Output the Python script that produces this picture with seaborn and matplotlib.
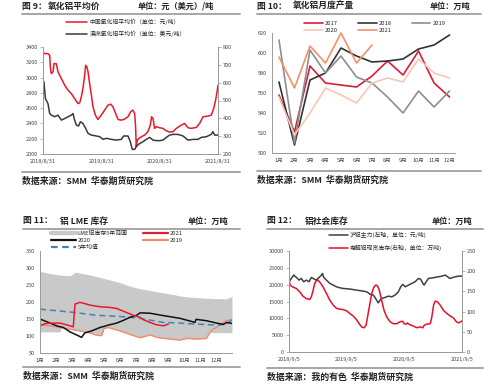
import matplotlib
matplotlib.use("Agg")
import matplotlib.pyplot as plt
from matplotlib.lines import Line2D
import seaborn as sns
import pandas as pd

sns.set_style("white")
plt.rcParams['font.family'] = ['Noto Sans CJK SC', 'DejaVu Sans']
plt.rcParams['axes.unicode_minus'] = False

# ---- 图9 氧化铝平均价 ----
cn_dates = ['2018-08-31', '2018-09-10', '2018-10-01', '2018-10-12', '2018-10-16', '2018-10-22',
            '2018-11-02', '2018-11-08', '2018-11-22', '2018-12-03', '2018-12-24', '2019-01-14',
            '2019-02-04', '2019-02-24', '2019-03-17', '2019-04-07', '2019-04-18', '2019-04-28',
            '2019-05-08', '2019-05-19', '2019-05-25', '2019-06-02', '2019-06-09', '2019-06-19',
            '2019-06-30', '2019-07-10', '2019-07-25', '2019-08-10', '2019-08-31', '2019-09-21',
            '2019-10-12', '2019-10-29', '2019-11-12', '2019-11-29', '2019-12-14', '2020-01-03',
            '2020-01-24', '2020-02-14', '2020-03-02', '2020-03-16', '2020-03-27', '2020-04-02',
            '2020-04-06', '2020-04-13', '2020-04-23', '2020-05-08', '2020-05-29', '2020-06-18',
            '2020-07-03', '2020-07-11', '2020-07-20', '2020-07-30', '2020-08-10', '2020-08-30',
            '2020-09-20', '2020-10-11', '2020-11-01', '2020-11-22', '2020-12-13', '2021-01-13',
            '2021-02-03', '2021-02-24', '2021-03-17', '2021-04-17', '2021-05-08', '2021-05-29',
            '2021-06-29', '2021-07-20', '2021-08-04', '2021-08-16', '2021-08-25', '2021-08-31']
cn_price = [3335, 3313, 3313, 3290, 3139, 3052, 3075, 3183, 3183, 3075, 2987, 2900,
            2835, 2791, 2726, 2660, 2670, 2748, 2857, 3030, 3161, 3139, 3075, 2922,
            2770, 2617, 2509, 2452, 2509, 2574, 2639, 2652, 2617, 2530, 2452, 2443,
            2456, 2487, 2552, 2574, 2530, 2357, 2096, 2183, 2204, 2226, 2248, 2291,
            2378, 2487, 2465, 2335, 2357, 2344, 2335, 2304, 2287, 2291, 2335, 2378,
            2400, 2344, 2335, 2348, 2400, 2487, 2496, 2509, 2596, 2704, 2813, 2900]
au_dates = ['2018-08-31', '2018-09-06', '2018-09-15', '2018-10-01', '2018-10-12', '2018-10-22',
            '2018-11-12', '2018-12-03', '2018-12-24', '2019-01-14', '2019-02-04', '2019-02-24',
            '2019-03-07', '2019-03-17', '2019-03-28', '2019-04-11', '2019-04-22', '2019-05-08',
            '2019-05-25', '2019-06-09', '2019-06-30', '2019-07-31', '2019-08-21', '2019-09-11',
            '2019-10-02', '2019-11-02', '2019-12-03', '2020-01-03', '2020-01-18', '2020-02-14',
            '2020-02-29', '2020-03-12', '2020-03-27', '2020-04-06', '2020-04-23', '2020-05-18',
            '2020-06-08', '2020-06-29', '2020-07-20', '2020-08-10', '2020-08-30', '2020-09-20',
            '2020-10-11', '2020-11-01', '2020-11-22', '2020-12-23', '2021-01-24', '2021-02-24',
            '2021-03-27', '2021-04-27', '2021-05-18', '2021-06-19', '2021-07-20', '2021-07-30',
            '2021-08-10', '2021-08-31']
au_price = [520, 604, 511, 483, 427, 418, 409, 418, 390, 399, 409, 418,
            427, 390, 362, 357, 381, 371, 344, 316, 306, 301, 297, 282,
            288, 282, 278, 282, 301, 301, 269, 226, 226, 241, 256, 269,
            282, 293, 278, 275, 275, 278, 293, 306, 310, 310, 301, 278,
            282, 282, 293, 297, 310, 325, 306, 306]
p9_ticks = ['2018-08-31', '2019-08-31', '2020-08-31', '2021-08-31']
p9_ticklabels = ['2018/8/31', '2019/8/31', '2020/8/31', '2021/8/31']

# ---- 图10 氧化铝月度产量 ----
months = list(range(1, 13))
month_labels = [f'{m}月' for m in months]
out_2017 = [558, 521, 587, 570, 568, 566, 577, 592, 578, 602, 570, 556]
out_2018 = [571, 508, 573, 580, 605, 597, 591, 592, 594, 604, 608, 618]
out_2019 = [613, 510, 603, 580, 597, 576, 570, 556, 540, 562, 546, 562]
out_2020 = [556, 518, 540, 565, 558, 550, 570, 575, 571, 594, 580, 575]
out_2021 = [596, 565, 607, 590, 620, 590, 608]

# ---- 图11 铝LME库存 (x: 月份, 0 = 1月初) ----
band_m = [0, 0.6, 1.25, 1.35, 1.9, 2.2, 2.5, 3.1, 3.5, 3.85, 4.0, 4.27, 5.0, 5.6,
          6.25, 6.9, 7.3, 8.1, 8.75, 9.2, 9.8, 10.4, 10.6, 10.8, 11.2, 11.6, 12.0]
band_hi = [290, 284, 279, 279, 277, 288, 285, 280, 275, 271, 269, 266, 257, 247,
           239, 234, 230, 224, 218, 215, 213, 211, 211, 210, 210, 209, 216]
band_lo = [112, 112, 112, 124, 120, 117, 115, 109, 103, 101, 122, 125, 115, 105,
           95, 103, 96, 91, 88, 93, 91, 93, 110, 110, 110, 110, 110]
lme21_m = [0, 0.3, 0.63, 1.25, 1.875, 2.08, 2.19, 2.5, 3.125, 3.75, 4.375, 4.79,
           5.42, 5.83, 6.25, 6.46, 6.875, 7.29, 7.71, 8.02]
lme21 = [130, 136, 138, 138, 130, 127, 194, 199, 191, 186, 184, 181,
         169, 161, 155, 148, 140, 133, 130, 135]
lme20_m = [0, 0.63, 1.04, 1.46, 1.875, 2.29, 2.6, 2.8, 3.23, 3.75, 4.27, 4.79, 5.21,
           5.625, 6.04, 6.25, 6.875, 7.71, 8.75, 9.69, 9.75, 10.4, 11.04, 11.46, 11.67, 12.0]
lme20 = [150, 138, 130, 125, 112, 103, 96, 109, 115, 125, 132, 138, 146,
         155, 161, 168, 167, 160, 152, 140, 149, 145, 138, 134, 140, 137]
lme19_m = [0, 0.63, 1.25, 1.875, 2.5, 3.125, 3.5, 3.85, 4.0, 4.27, 5.0, 5.6, 6.25,
           6.9, 7.3, 8.1, 8.75, 9.2, 9.8, 10.4, 10.6, 10.8, 11.2, 11.6, 12.0]
lme19 = [132, 130, 125, 120, 115, 109, 103, 101, 122, 125, 115, 105, 95,
         103, 96, 91, 88, 93, 91, 93, 109, 120, 130, 145, 148]
avg5_m = [0, 2.2, 3.5, 4.79, 5.625, 6.25, 7.71, 8.75, 9.79, 11.04, 11.67, 12.0]
avg5 = [179, 169, 161, 158, 155, 152, 140, 138, 135, 132, 135, 148]

# ---- 图12 铝社会库存 ----
shfe_dates = ['2018-09-05', '2018-09-20', '2018-10-05', '2018-10-22', '2018-11-08', '2018-11-22',
              '2018-12-07', '2018-12-24', '2019-01-10', '2019-01-25', '2019-02-05', '2019-02-22',
              '2019-03-08', '2019-03-30', '2019-04-05', '2019-04-13', '2019-04-30', '2019-05-22',
              '2019-06-12', '2019-07-03', '2019-07-24', '2019-08-14', '2019-09-26', '2019-11-07',
              '2019-12-20', '2020-01-10', '2020-01-31', '2020-02-21', '2020-03-03', '2020-03-13',
              '2020-03-24', '2020-04-04', '2020-04-14', '2020-05-05', '2020-05-27', '2020-06-17',
              '2020-07-08', '2020-07-29', '2020-08-13', '2020-08-26', '2020-09-10', '2020-10-01',
              '2020-10-22', '2020-11-12', '2020-12-03', '2020-12-18', '2020-12-31', '2021-01-08',
              '2021-01-21', '2021-02-05', '2021-03-19', '2021-05-01', '2021-05-22', '2021-06-06',
              '2021-06-19', '2021-07-25', '2021-08-15', '2021-09-05']
shfe_price = [20860, 21855, 22850, 22150, 21360, 21855, 20860, 21360, 20860, 22150, 21855, 21360,
              21855, 22850, 23345, 22150, 21360, 20365, 19870, 19370, 19070, 18875, 18700, 18375,
              18080, 17880, 17185, 16890, 16190, 15400, 14600, 15400, 15895, 16190, 16590, 16390,
              16890, 17880, 19370, 20065, 19370, 19870, 20365, 20860, 21855, 21555, 20365, 19870,
              20860, 21855, 22150, 22550, 22850, 22350, 21855, 22350, 22550, 22550]
stock_dates = ['2018-09-05', '2018-09-13', '2018-09-30', '2018-10-22', '2018-11-12', '2018-12-03',
               '2018-12-24', '2019-01-14', '2019-01-25', '2019-02-05', '2019-02-15', '2019-02-26',
               '2019-03-08', '2019-03-23', '2019-04-09', '2019-04-30', '2019-05-22', '2019-06-12',
               '2019-07-03', '2019-07-24', '2019-08-14', '2019-09-05', '2019-09-26', '2019-10-17',
               '2019-11-07', '2019-11-24', '2019-12-09', '2019-12-24', '2020-01-06', '2020-01-14',
               '2020-01-27', '2020-02-11', '2020-02-25', '2020-03-09', '2020-03-20', '2020-03-30',
               '2020-04-14', '2020-04-29', '2020-05-16', '2020-06-06', '2020-06-27', '2020-07-19',
               '2020-08-09', '2020-08-26', '2020-09-03', '2020-09-16', '2020-09-24', '2020-10-07',
               '2020-11-02', '2020-11-23', '2020-12-14', '2020-12-31', '2021-01-08', '2021-01-25',
               '2021-02-16', '2021-02-26', '2021-03-09', '2021-03-19', '2021-04-03', '2021-04-20',
               '2021-05-11', '2021-06-02', '2021-06-23', '2021-07-14', '2021-07-31', '2021-08-15',
               '2021-09-05']
stock_val = [178, 165, 161, 157, 149, 138, 132, 130, 137, 153, 170, 176,
             178, 171, 161, 145, 128, 116, 108, 106, 105, 102, 95, 89,
             80, 70, 62, 60, 66, 83, 112, 145, 161, 166, 163, 153,
             128, 103, 87, 75, 70, 70, 75, 76, 70, 69, 72, 68,
             64, 60, 62, 60, 66, 69, 70, 87, 116, 126, 124, 116,
             103, 95, 89, 84, 75, 72, 77]
p12_ticks = ['2018-09-05', '2019-09-05', '2020-09-05', '2021-09-05']
p12_ticklabels = ['2018/9/5', '2019/9/5', '2020/9/5', '2021/9/5']

W, H = 500, 386
fig = plt.figure(figsize=(5, 3.86), dpi=100)

TICK_FS = 4
LEG_FS = 4.2
SPINE = '#9a9a9a'


def fx(px):
    return px / W


def fy(py):
    return 1 - py / H


def add_axes(x0, y0, x1, y1):
    return fig.add_axes([fx(x0), fy(y1), fx(x1) - fx(x0), fy(y0) - fy(y1)])


def hline(x0, x1, y):
    fig.add_artist(Line2D([fx(x0), fx(x1)], [fy(y), fy(y)], transform=fig.transFigure,
                          color='#a6a6a6', lw=1.4))


def panel_text(x_fig, x_title, x_unit, x_end, y_title, fig_no, title, unit, y_src, source):
    kw = dict(fontweight='bold', va='center', ha='left', color='#222222')
    fig.text(fx(x_fig), fy(y_title), fig_no, fontsize=6.3, **kw)
    fig.text(fx(x_title), fy(y_title), title, fontsize=6.3, **kw)
    fig.text(fx(x_unit), fy(y_title), unit, fontsize=5.9, **kw)
    hline(x_fig, x_end, y_title + 8)
    hline(x_fig, x_end, y_src - 9)
    fig.text(fx(x_fig), fy(y_src), source, fontsize=6.4, **kw)


def style(ax, spines=('left', 'bottom')):
    for s in ['left', 'right', 'top', 'bottom']:
        ax.spines[s].set_visible(s in spines)
        ax.spines[s].set_color(SPINE)
        ax.spines[s].set_linewidth(0.7)
    ax.tick_params(labelsize=TICK_FS, length=2, width=0.5, color=SPINE, pad=1.5,
                   labelcolor='#444444')
    ax.grid(False)
    ax.set_xlabel('')
    ax.set_ylabel('')


# ---------- 图9 ----------
panel_text(22, 48, 138, 240, 6, '图 9：', '氧化铝平均价', '单位：元（美元）/吨', 181,
           '数据来源：SMM  华泰期货研究院')
ax1 = add_axes(43, 47, 218, 154)
ax1r = ax1.twinx()
sns.lineplot(x=pd.to_datetime(cn_dates), y=cn_price, ax=ax1, color='#e8192c', lw=1.1,
             label='中国氧化铝平均价（单位：元/吨）', legend=False)
sns.lineplot(x=pd.to_datetime(au_dates), y=au_price, ax=ax1r, color='#3a3a3a', lw=1.1,
             label='澳洲氧化铝平均价（单位：美元/吨）', legend=False)
ax1.set_ylim(2000, 3400)
ax1.set_yticks(range(2000, 3401, 200))
ax1r.set_ylim(200, 800)
ax1r.set_yticks(range(200, 801, 100))
ax1.set_xlim(pd.Timestamp('2018-08-31'), pd.Timestamp('2021-08-31'))
ax1.set_xticks(pd.to_datetime(p9_ticks))
ax1.set_xticklabels(p9_ticklabels)
style(ax1, ('left', 'right', 'bottom'))
style(ax1r, ('left', 'right', 'bottom'))
h1 = ax1.get_lines() + ax1r.get_lines()
fig.legend(h1, [h.get_label() for h in h1], loc='upper left',
           bbox_to_anchor=(fx(66), fy(19)), frameon=False, fontsize=LEG_FS,
           handlelength=3.6, handletextpad=0.4, labelspacing=0.9, borderpad=0,
           borderaxespad=0)

# ---------- 图10 ----------
panel_text(257, 293, 430, 481, 6, '图 10：', '氧化铝月度产量', '单位：万吨', 180,
           '数据来源：SMM  华泰期货研究院')
ax2 = add_axes(272, 33, 455, 153)
series10 = [('2017', out_2017, '#d91e36'), ('2018', out_2018, '#333333'),
            ('2019', out_2019, '#8e8e8e'), ('2020', out_2020, '#f7c8b4'),
            ('2021', out_2021, '#f2916a')]
handles2 = {}
for name, vals, col in series10:
    sns.lineplot(x=months[:len(vals)], y=vals, ax=ax2, color=col, lw=1.2, label=name,
                 legend=False)
    handles2[name] = ax2.get_lines()[-1]
    handles2[name].set_clip_on(False)
ax2.set_ylim(500, 620)
ax2.set_yticks(range(500, 621, 20))
ax2.set_xlim(0.55, 12.35)
ax2.set_xticks(months)
ax2.set_xticklabels(month_labels)
style(ax2)
order2 = ['2017', '2020', '2018', '2021', '2019']
fig.legend([handles2[k] for k in order2], order2, ncol=3, loc='upper left',
           bbox_to_anchor=(fx(304), fy(20.5)), frameon=False, fontsize=LEG_FS,
           handlelength=3.2, handletextpad=0.4, labelspacing=0.35, columnspacing=3.4,
           borderpad=0, borderaxespad=0)

# ---------- 图11 ----------
panel_text(23, 60, 188, 240, 221, '图 11：', '铝 LME 库存', '单位：万吨', 376,
           '数据来源：SMM  华泰期货研究院')
ax3 = add_axes(40, 251, 232, 353)
ax3.fill_between(band_m, band_lo, band_hi, color='#c9c9c9', lw=0)
sns.lineplot(x=lme19_m, y=lme19, ax=ax3, color='#f4896b', lw=1.0, legend=False)
sns.lineplot(x=avg5_m, y=avg5, ax=ax3, color='#3a87b5', lw=1.1, legend=False,
             dashes=False, linestyle=(0, (4, 2.5)))
sns.lineplot(x=lme20_m, y=lme20, ax=ax3, color='#111111', lw=1.1, legend=False)
sns.lineplot(x=lme21_m, y=lme21, ax=ax3, color='#e31d2f', lw=1.1, legend=False)
ax3.set_ylim(50, 350)
ax3.set_yticks(range(50, 351, 50))
ax3.set_xlim(0, 12)
ax3.set_xticks(range(12))
ax3.set_xticklabels(month_labels)
style(ax3)
h3 = [Line2D([], [], color='#c9c9c9', lw=3.2),
      Line2D([], [], color='#111111', lw=1.6),
      Line2D([], [], color='#3a87b5', lw=1.6, linestyle=(0, (3, 2))),
      Line2D([], [], color='#e31d2f', lw=1.6),
      Line2D([], [], color='#f4896b', lw=1.6)]
l3 = ['LME铝库存5年范围', '2020', '5年均值', '2021', '2019']
fig.legend(h3, l3, ncol=2, loc='upper left', bbox_to_anchor=(fx(51), fy(231)),
           frameon=False, fontsize=LEG_FS, handlelength=4.3, handletextpad=0.3,
           labelspacing=0.3, columnspacing=2.6, borderpad=0, borderaxespad=0)

# ---------- 图12 ----------
panel_text(267, 305, 432, 483, 221, '图 12：', '铝社会库存', '单位：万吨', 377,
           '数据来源：我的有色  华泰期货研究院')
ax4 = add_axes(289, 251, 462, 352)
ax4r = ax4.twinx()
sns.lineplot(x=pd.to_datetime(shfe_dates), y=shfe_price, ax=ax4, color='#404040', lw=1.1,
             label='沪铝主力(左轴，单位：元/吨)', legend=False)
sns.lineplot(x=pd.to_datetime(stock_dates), y=stock_val, ax=ax4r, color='#e4122c', lw=1.1,
             label='电解铝现货库存(右轴，单位：万吨)', legend=False)
ax4.set_ylim(0, 30000)
ax4.set_yticks(range(0, 30001, 5000))
ax4r.set_ylim(0, 250)
ax4r.set_yticks(range(0, 251, 50))
ax4.set_xlim(pd.Timestamp('2018-09-05'), pd.Timestamp('2021-09-05'))
ax4.set_xticks(pd.to_datetime(p12_ticks))
ax4.set_xticklabels(p12_ticklabels)
style(ax4, ('left', 'right', 'bottom'))
style(ax4r, ('left', 'right', 'bottom'))
h4 = ax4.get_lines() + ax4r.get_lines()
fig.legend(h4, [h.get_label() for h in h4], loc='upper left',
           bbox_to_anchor=(fx(329), fy(232)), frameon=False, fontsize=LEG_FS,
           handlelength=3.2, handletextpad=0.3, labelspacing=1.0, borderpad=0,
           borderaxespad=0)

fig.savefig('out.png', dpi=100, facecolor='white')
